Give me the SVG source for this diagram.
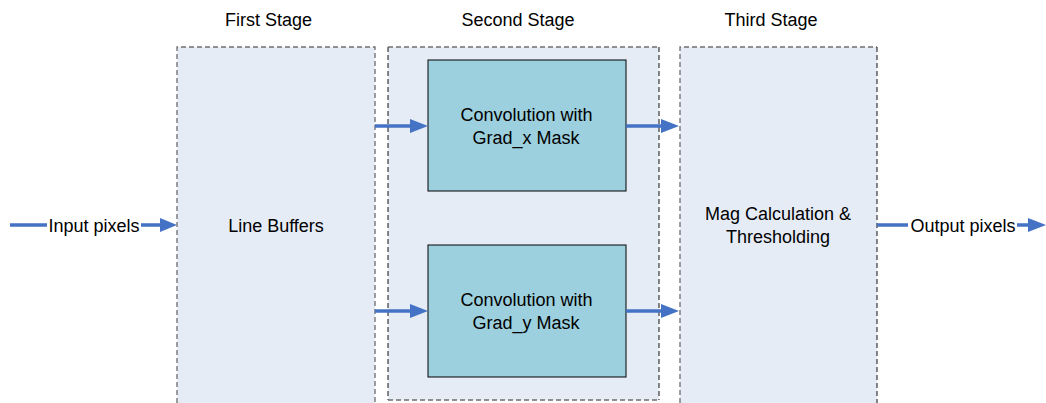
<svg xmlns="http://www.w3.org/2000/svg" width="1046" height="403" viewBox="0 0 1046 403">
<style>
.stage{fill:#E6ECF6}
.bg{stroke:#6d6d6d;stroke-width:1.3;stroke-dasharray:5,3;fill:none}
.bk{stroke:#111;stroke-width:1;stroke-dasharray:5,3;fill:none}
.conv{fill:#9DD0DE;stroke:#000;stroke-width:1}
.t{font-family:"Liberation Sans",Arial,sans-serif;font-size:18px;fill:#000;text-anchor:middle}
.ln{stroke:#4472C4;stroke-width:3.5;fill:none}
.ah{fill:#4472C4}
</style>
<rect width="1046" height="403" fill="#fff"/>
<g id="first-stage">
<rect class="stage" x="177" y="47" width="198" height="356"/>
<path class="bg" d="M177,403 V47 H375 V403"/>
<text class="t" x="268.5" y="26">First Stage</text>
<text class="t" x="276" y="232">Line Buffers</text>
</g>
<g id="second-stage">
<rect class="stage" x="388" y="47" width="271" height="353"/>
<path class="bk" d="M388,47 V400"/>
<path class="bk" d="M659,47 V400"/>
<path class="bg" d="M388,47 H659 M388,400 H659"/>
<text class="t" x="518" y="26">Second Stage</text>
</g>
<g id="third-stage">
<rect class="stage" x="680" y="47" width="197" height="356"/>
<path class="bg" d="M680,403 V47 H877"/>
<path class="bk" d="M877,47 V403"/>
<text class="t" x="771" y="26">Third Stage</text>
<text class="t" x="778" y="220">Mag Calculation &amp;</text>
<text class="t" x="778" y="243">Thresholding</text>
</g>
<g id="conv-x">
<rect class="conv" x="428" y="60" width="198" height="131"/>
<text class="t" x="526.5" y="121">Convolution with</text>
<text class="t" x="526" y="144">Grad_x Mask</text>
</g>
<g id="conv-y">
<rect class="conv" x="428" y="245" width="198" height="132"/>
<text class="t" x="526.5" y="306">Convolution with</text>
<text class="t" x="526" y="329">Grad_y Mask</text>
</g>
<g id="input">
<text class="t" x="94" y="232">Input pixels</text>
</g>
<g id="output">
<text class="t" x="963" y="232">Output pixels</text>
</g>
<g id="connectors">
<path class="ln" d="M10,225 H47 M141,225 H160"/>
<polygon class="ah" points="160,218 177,225 160,232"/>
<path class="ln" d="M375,126 H411"/>
<polygon class="ah" points="410,119 428,126 410,133"/>
<path class="ln" d="M626,126 H662"/>
<polygon class="ah" points="661,119 679,126 661,133"/>
<path class="ln" d="M375,311 H411"/>
<polygon class="ah" points="410,304 428,311 410,318"/>
<path class="ln" d="M626,311 H662"/>
<polygon class="ah" points="661,304 679,311 661,318"/>
<path class="ln" d="M877,225 H908 M1017,225 H1029"/>
<polygon class="ah" points="1028,218 1046,225 1028,232"/>
</g>
</svg>
